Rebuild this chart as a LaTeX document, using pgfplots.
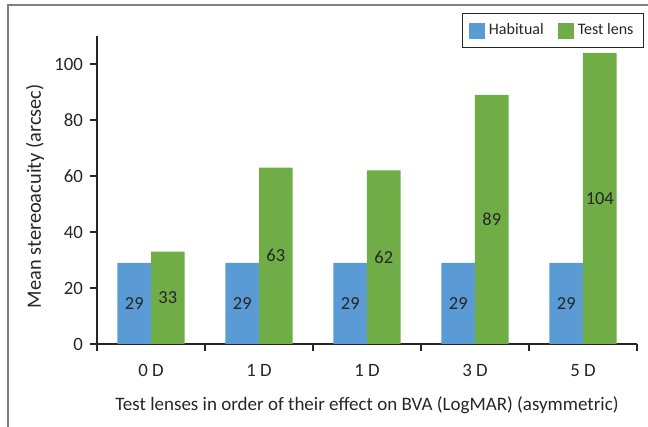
\documentclass[border=0pt]{standalone}
\usepackage{fontspec}
\setmainfont{Carlito}
\usepackage{pgfplots}
\pgfplotsset{compat=1.18}
\definecolor{hab}{HTML}{5B9BD5}
\definecolor{tst}{HTML}{70AD47}
\definecolor{txt}{HTML}{262626}
\begin{document}
\begin{tikzpicture}
\useasboundingbox (0pt,0pt) rectangle (324pt,213.5pt);
\draw[color=black!50, line width=0.8pt] (4pt,-2pt) -- (4pt,211pt) -- (326pt,211pt);
\begin{axis}[
  at={(48.5pt,41.5pt)}, anchor=south west,
  scale only axis, width=270pt, height=154pt,
  xmin=-0.5, xmax=4.5, ymin=0, ymax=110,
  ybar=0pt, bar width=16.75pt,
  axis x line*=bottom, axis y line*=left,
  axis line style={black!85, line width=0.6pt},
  tick align=outside,
  xtick={0,1,2,3,4},
  xticklabels={0 D,1 D,1 D,3 D,5 D},
  major x tick style={draw=none},
  minor xtick={-0.5,0.5,1.5,2.5,3.5,4.5},
  minor tick length=3.5pt,
  minor x tick style={black!85, line width=0.6pt},
  ytick={0,20,40,60,80,100},
  major tick length=3.5pt,
  major y tick style={black!85, line width=0.6pt},
  /pgf/number format/assume math mode=true,
  tick label style={font=\fontsize{9.4}{10}\selectfont, text=txt},
  xticklabel style={yshift=-3pt},
  ylabel={Mean stereoacuity (arcsec)},
  xlabel={Test lenses in order of their effect on BVA (LogMAR) (asymmetric)},
  every axis y label/.style={at={(axis description cs:-0.1148,0.48)}, rotate=90, anchor=center, font=\fontsize{10.2}{11}\selectfont, text=txt},
  every axis x label/.style={at={(axis description cs:0.5,-0.198)}, anchor=center, font=\fontsize{9.5}{11}\selectfont, text=txt},
  nodes near coords,
  visualization depends on={rawy \as \rawy},
  every node near coord/.append style={anchor=center, yshift={-0.7pt*\rawy}, font=\fontsize{9.2}{10}\selectfont, text=txt},
  legend style={at={(1,1)}, anchor=north east, xshift=3.5pt, yshift=11.5pt,
    draw=black!85, line width=0.5pt, legend columns=2,
    font=\fontsize{8}{9}\selectfont, text=txt,
    inner xsep=3pt, inner ysep=3pt,
    /tikz/every even column/.append style={column sep=5pt}},
  legend image code/.code={\fill[#1] (0pt,-4pt) rectangle (8pt,4pt);},
]
\addplot[fill=hab, draw=none] coordinates {(0,29) (1,29) (2,29) (3,29) (4,29)};
\addplot[fill=tst, draw=none] coordinates {(0,33) (1,63) (2,62) (3,89) (4,104)};
\legend{Habitual,Test lens}
\end{axis}
\end{tikzpicture}
\end{document}
